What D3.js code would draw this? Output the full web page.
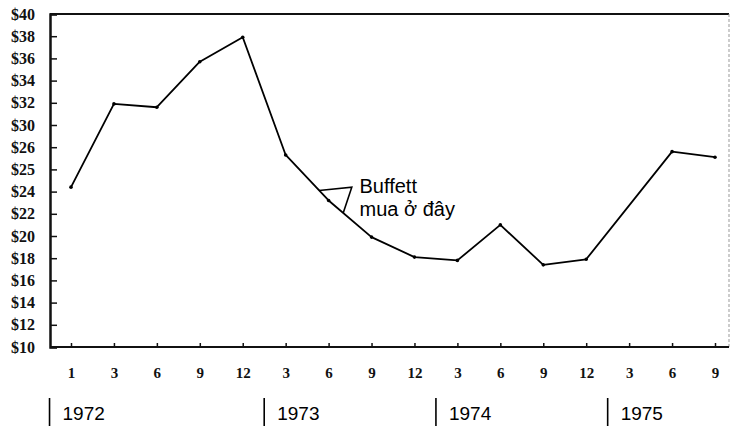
<!DOCTYPE html>
<html>
<head>
<meta charset="utf-8">
<script src="https://cdn.jsdelivr.net/npm/d3@7"></script>
<style>
  body { margin: 0; background: #fff; }
  svg { display: block; }
</style>
</head>
<body>
<div id="chart"></div>
<script>
// month tick labels along the bottom (one per slot)
var monthLabels = ["1", "3", "6", "9", "12", "3", "6", "9", "12", "3", "6", "9", "12", "3", "6", "9"];
// y tick labels as printed (bottom to top; the scan has 26/25 where 28/26 would be)
var priceLabels = ["$10", "$12", "$14", "$16", "$18", "$20", "$22", "$24", "$25", "$26", "$30", "$32", "$34", "$36", "$38", "$40"];
var years = ["1972", "1973", "1974", "1975"];
var yearStart = [0, 5, 9, 13];   // slot index of first month of each year

// price path, slot index -> value
var slots  = [0, 1, 2, 3, 4, 5, 6, 7, 8, 9, 10, 11, 12, 14, 15];
var prices = [24.4, 31.9, 31.6, 35.7, 37.9, 27.3, 23.2, 19.9, 18.1, 17.8, 21.0, 17.4, 17.9, 27.6, 27.1];

var width = 730, height = 426;

var svg = d3.select("#chart").append("svg")
  .attr("width", width)
  .attr("height", height);

var x = d3.scaleLinear().domain([0, 15]).range([71, 715]);
var y = d3.scaleLinear().domain([10, 40]).range([347, 14]);

var left = 50, right = 729;

// frame: top and right
svg.append("line")
  .attr("x1", left).attr("x2", right)
  .attr("y1", y(40)).attr("y2", y(40))
  .style("stroke", "#111").style("stroke-width", 2.2);
svg.append("line")
  .attr("x1", right).attr("x2", right)
  .attr("y1", y(40)).attr("y2", y(10))
  .style("stroke", "#999").style("stroke-width", 1)
  .style("stroke-dasharray", "3,2");

// y axis
var yAxis = d3.axisLeft(y)
  .tickValues(d3.range(10, 41, 2))
  .tickSize(-7)
  .tickFormat(function(d, i) { return priceLabels[i]; });

var gy = svg.append("g")
  .attr("transform", "translate(" + left + ",0)")
  .call(yAxis);
gy.select(".domain").style("stroke", "#111").style("stroke-width", 2.5);
gy.selectAll(".tick line").style("stroke", "#111").style("stroke-width", 1.5);
gy.selectAll(".tick text")
  .style("font-family", "'Liberation Serif', 'DejaVu Serif', serif")
  .style("font-weight", "bold")
  .style("font-size", "16px")
  .attr("x", -15)
  .style("fill", "#111");

// x axis
var xAxis = d3.axisBottom(x)
  .tickValues(d3.range(0, 16))
  .tickSize(-4)
  .tickPadding(20)
  .tickFormat(function(d) { return monthLabels[d]; });

var gx = svg.append("g")
  .attr("transform", "translate(0," + y(10) + ")")
  .call(xAxis);
gx.select(".domain").remove();
gx.append("line")
  .attr("x1", left).attr("x2", right)
  .style("stroke", "#111").style("stroke-width", 2.2);
gx.selectAll(".tick line").style("stroke", "#111").style("stroke-width", 1.5);
gx.selectAll(".tick text")
  .style("font-family", "'Liberation Serif', 'DejaVu Serif', serif")
  .style("font-weight", "bold")
  .style("font-size", "15px")
  .style("fill", "#111");

// price line
var pts = slots.map(function(s, i) { return {s: s, v: prices[i]}; });

var line = d3.line()
  .x(function(d) { return x(d.s); })
  .y(function(d) { return y(d.v); });

svg.append("path")
  .datum(pts)
  .attr("d", line)
  .style("fill", "none")
  .style("stroke", "#000")
  .style("stroke-width", 1.8)
  .style("stroke-linejoin", "round");

svg.selectAll("circle.pt")
  .data(pts)
  .enter()
  .append("circle")
  .attr("class", "pt")
  .attr("cx", function(d) { return x(d.s); })
  .attr("cy", function(d) { return y(d.v); })
  .attr("r", 1.8)
  .style("fill", "#000");

// annotation: small triangle pointer touching the line
var along = d3.scaleLinear().domain(slots).range(prices);
function onLine(s) { return [x(s), y(along(s))]; }
var a = onLine(5.78), b = onLine(6.34);
var tip = [x(6.54), y(24.4)];

svg.append("path")
  .attr("d", "M" + a + "L" + tip + "L" + b)
  .style("fill", "none")
  .style("stroke", "#000")
  .style("stroke-width", 1.6);

var note = svg.append("text")
  .attr("y", 193)
  .style("font-family", "'Liberation Sans', Arial, sans-serif")
  .style("font-size", "20px")
  .style("fill", "#000");
note.append("tspan").attr("x", x(6.72)).text("Buffett");
note.append("tspan").attr("x", x(6.72)).attr("dy", 23).text("mua ở đây");

// year markers
var yg = svg.selectAll("g.year")
  .data(years)
  .enter()
  .append("g")
  .attr("class", "year")
  .attr("transform", function(d, i) { return "translate(" + x(yearStart[i] - 0.5) + ",0)"; });

yg.append("line")
  .attr("y1", 398).attr("y2", 428)
  .style("stroke", "#000")
  .style("stroke-width", 1.6);

yg.append("text")
  .attr("x", 13)
  .attr("y", 420)
  .style("font-family", "'Liberation Sans', Arial, sans-serif")
  .style("font-size", "19px")
  .style("fill", "#000")
  .text(function(d) { return d; });
</script>
</body>
</html>
